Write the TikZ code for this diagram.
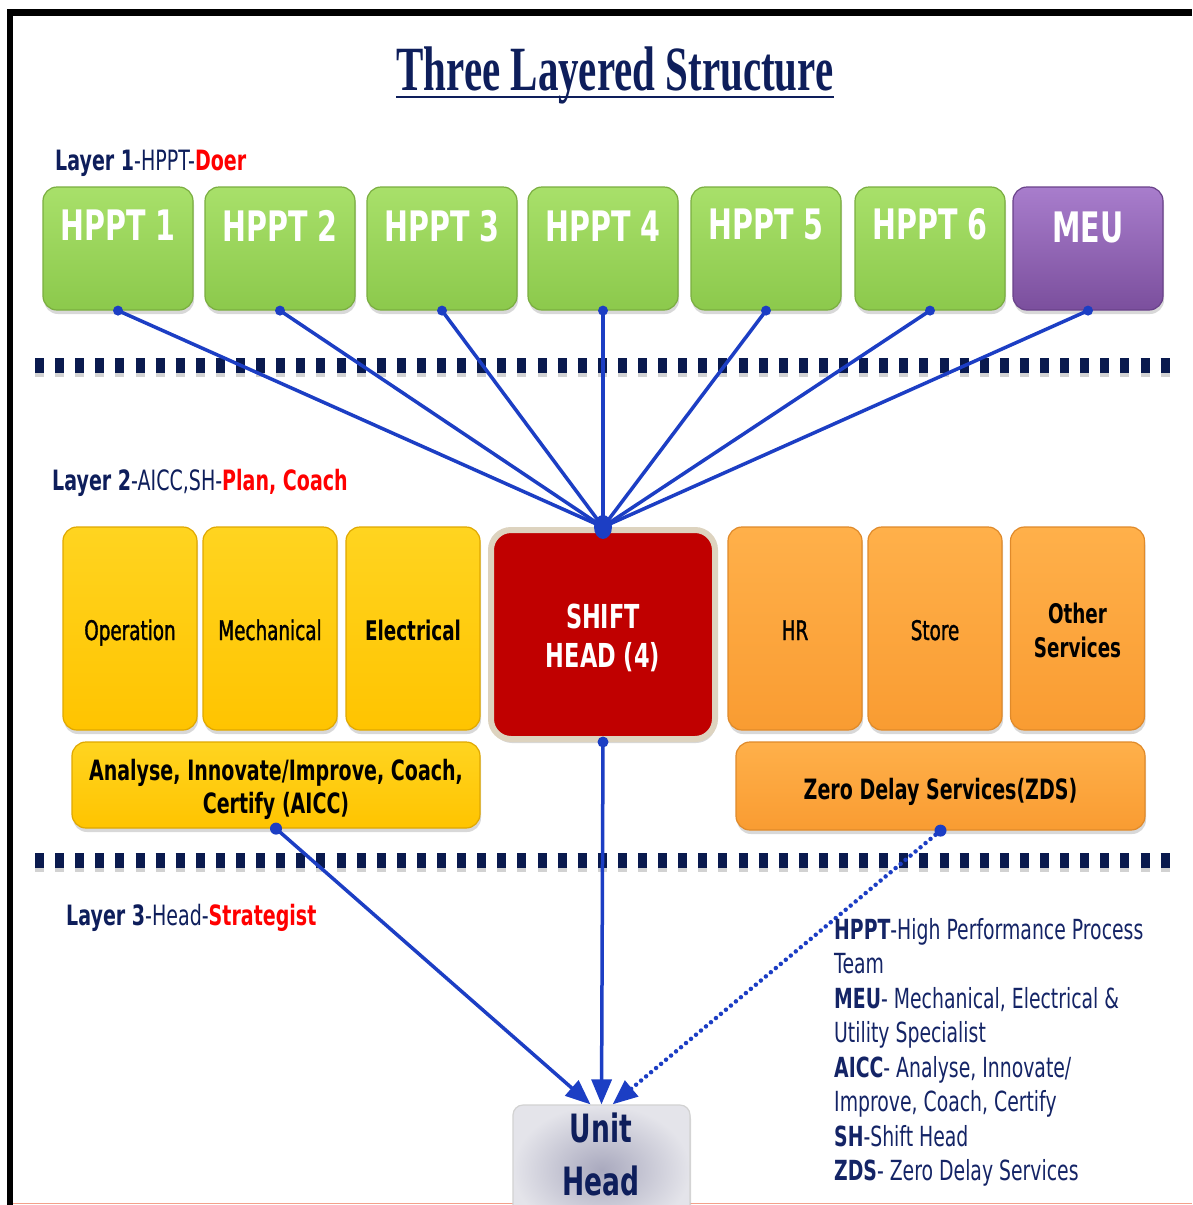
\documentclass[tikz,border=0pt]{standalone}
\usepackage{fontspec}
\setmainfont{DejaVu Sans}[FakeStretch=0.68]
\newfontfamily\medfont{DejaVu Sans}[FakeStretch=0.68, FakeBold=1.3]
\newfontfamily\titlefont{Liberation Serif}[FakeStretch=0.65]
\usetikzlibrary{shadows,arrows.meta}
\definecolor{navy}{HTML}{0E1E5B}
\definecolor{legnavy}{HTML}{142466}
\definecolor{lred}{HTML}{FF0000}
\definecolor{lineblue}{HTML}{1C3EC4}
\definecolor{greenT}{HTML}{A8E06A}
\definecolor{greenB}{HTML}{8CC94C}
\definecolor{greenD}{HTML}{7AAE40}
\definecolor{purT}{HTML}{A87DCC}
\definecolor{purB}{HTML}{7B4F9D}
\definecolor{purD}{HTML}{6A428A}
\definecolor{yelT}{HTML}{FFD420}
\definecolor{yelB}{HTML}{FFC400}
\definecolor{yelD}{HTML}{E0A800}
\definecolor{orT}{HTML}{FFB04A}
\definecolor{orB}{HTML}{F99C32}
\definecolor{orD}{HTML}{E08A2A}
\definecolor{shred}{HTML}{C00000}
\definecolor{shborder}{HTML}{DDD3BF}
\definecolor{dashc}{HTML}{0A1A4E}
\definecolor{salmon}{HTML}{F4A08A}
\definecolor{uhin}{HTML}{A9A9BE}
\definecolor{uhout}{HTML}{E4E4EA}
\tikzset{
  box/.style={rounded corners=14pt, draw, line width=1.2pt, inner sep=0pt,
    drop shadow={opacity=.3,shadow xshift=1pt,shadow yshift=-4pt}},
  hbox/.style={box, minimum width=150pt, minimum height=123pt,
    top color=greenT, bottom color=greenB, draw=greenD},
  mbox/.style={box, minimum width=150pt, minimum height=123pt,
    top color=purT, bottom color=purB, draw=purD},
  htext/.style={text=white, font=\fontsize{42}{50}\selectfont\bfseries, inner sep=0pt},
  ybox/.style={box, minimum width=134pt, minimum height=203pt,
    top color=yelT, bottom color=yelB, draw=yelD, align=center},
  obox/.style={box, minimum width=134pt, minimum height=203pt,
    top color=orT, bottom color=orB, draw=orD, align=center},
  lab/.style={font=\medfont\fontsize{27}{34}\selectfont},
  labb/.style={font=\fontsize{27}{34}\selectfont\bfseries},
  btext/.style={inner sep=0pt, align=center, font=\fontsize{28}{33}\selectfont\bfseries},
  layer/.style={anchor=base west, inner sep=0pt, text=navy, font=\fontsize{28}{34}\selectfont},
  leg/.style={anchor=base west, inner sep=0pt, text=legnavy, font=\fontsize{27.7}{34}\selectfont},
  conn/.style={lineblue, line width=3.5pt},
  sep/.style={dashc, line width=15pt, dash pattern=on 9pt off 11.1pt},
  sepshadow/.style={black!35, opacity=.5, line width=13pt, dash pattern=on 9pt off 11.1pt},
  tip/.style={-{Triangle[length=25pt,width=20pt]}}
}
\begin{document}
\begin{tikzpicture}[x=1pt,y=-1pt]
\useasboundingbox (0,0) rectangle (1192,1205);
\fill[white] (0,0) rectangle (1192,1205);
% frame
\fill[black] (7,9) rectangle (1192,16);
\fill[black] (7,9) rectangle (13,1205);
\draw[salmon, line width=1.5pt] (13,1203.5) -- (1192,1203.5);

% title
\node[anchor=base, inner sep=0pt, text=navy, font=\titlefont\fontsize{63}{70}\selectfont\bfseries] (title) at (615,90) {Three Layered Structure};
\draw[navy, line width=2.6pt] ([yshift=-7pt]title.base west) -- ([yshift=-7pt]title.base east);

% layer labels
\node[layer] (l1) at (55,170) {\textbf{Layer 1}-HPPT-\textcolor{lred}{\textbf{Doer}}};
\node[layer] (l2) at (52,490) {\textbf{Layer 2}-AICC,SH-\textcolor{lred}{\textbf{Plan, Coach}}};
\node[layer] (l3) at (66,925) {\textbf{Layer 3}-Head-\textcolor{lred}{\textbf{Strategist}}};

% separators
\draw[sepshadow] (35,370) -- (1170,370);
\draw[sep] (35,365) -- (1170,365);
\draw[sepshadow] (35,865) -- (1170,865);
\draw[sep] (35,860) -- (1170,860);

% layer 1 boxes
\node[hbox] (h1) at (118,248.5) {};
\node[hbox] (h2) at (280,248.5) {};
\node[hbox] (h3) at (442,248.5) {};
\node[hbox] (h4) at (603,248.5) {};
\node[hbox] (h5) at (766,248.5) {};
\node[hbox] (h6) at (930,248.5) {};
\node[mbox] (meu) at (1088,248.5) {};
\node[htext] (h1t) at (118,225) {HPPT 1};
\node[htext] (h2t) at (280,226) {HPPT 2};
\node[htext] (h3t) at (442,226) {HPPT 3};
\node[htext] (h4t) at (603,226) {HPPT 4};
\node[htext] (h5t) at (766,224) {HPPT 5};
\node[htext] (h6t) at (930,224) {HPPT 6};
\node[htext] (meut) at (1088,227) {MEU};

% layer 2 boxes
\node[ybox] (op) at (130,628.5) {};
\node[ybox] (mech) at (270,628.5) {};
\node[ybox] (elec) at (413,628.5) {};
\node[obox] (hr) at (795,628.5) {};
\node[obox] (store) at (935,628.5) {};
\node[obox] (other) at (1077.5,628.5) {};
\node[lab, anchor=base] (opt) at (130,640) {Operation};
\node[lab, anchor=base] (mecht) at (270,640) {Mechanical};
\node[labb, anchor=base] (elect) at (413,640) {Electrical};
\node[lab, anchor=base] (hrt) at (795,640) {HR};
\node[lab, anchor=base] (storet) at (935,640) {Store};
\node[labb, align=center, inner sep=0pt] (othert) at (1077.5,630) {Other\\Services};
\node[box, rounded corners=20pt, minimum width=224pt, minimum height=209pt,
  fill=shred, draw=shborder, line width=6pt] (sh) at (603,634.5) {};
\node[inner sep=0pt, text=white, align=center,
  font=\fontsize{33}{39}\selectfont\bfseries] (sht) at (603,638) {SHIFT\\HEAD (4)};
\node[box, minimum width=408pt, minimum height=86pt, top color=yelT, bottom color=yelB,
  draw=yelD] (aicc) at (276,785) {};
\node[btext] (aicct) at (276,789) {Analyse, Innovate/Improve, Coach,\\Certify (AICC)};
\node[box, minimum width=409pt, minimum height=88pt, top color=orT, bottom color=orB,
  draw=orD] (zds) at (940.5,786) {};
\node[btext, anchor=base] (zdst) at (940.5,799) {Zero Delay Services(ZDS)};

% unit head
\node[box, rounded corners=10pt, minimum width=177pt, minimum height=130pt,
  inner color=uhin, outer color=uhout, draw=gray!35] (uh) at (601.5,1170) {};
\node[inner sep=0pt, anchor=base, text=navy, font=\fontsize{39}{46}\selectfont\bfseries] (uh1) at (601,1142) {Unit};
\node[inner sep=0pt, anchor=base, text=navy, font=\fontsize{39}{46}\selectfont\bfseries] (uh2) at (601,1195) {Head};

% connectors layer1 -> shift head
\foreach \n in {h1,h2,h3,h4,h5,h6,meu}{
  \draw[conn] (\n.south) -- (sh.north);
  \fill[lineblue] (\n.south) circle (5pt);
}
\fill[lineblue] (sh.north) ellipse (9pt and 12pt);

% to unit head
\draw[conn, tip] (aicc.south) -- ([xshift=-11pt]uh.north);
\draw[conn, tip] (sh.south) -- (uh.north);
\draw[lineblue, line width=4.5pt, dash pattern=on 0pt off 6.5pt, line cap=round, tip] (zds.south) -- ([xshift=11pt]uh.north);
\fill[lineblue] (sh.south) circle (5.5pt);
\fill[lineblue] (aicc.south) circle (6pt);
\fill[lineblue] (zds.south) circle (6pt);

% legend
\node[leg] (g1) at (834,939) {\textbf{HPPT}-High Performance Process};
\node[leg] (g2) at (834,973.5) {Team};
\node[leg] (g3) at (834,1008) {\textbf{MEU}- Mechanical, Electrical \&};
\node[leg] (g4) at (834,1042.5) {Utility Specialist};
\node[leg] (g5) at (834,1077) {\textbf{AICC}- Analyse, Innovate/};
\node[leg] (g6) at (834,1111.5) {Improve, Coach, Certify};
\node[leg] (g7) at (834,1146) {\textbf{SH}-Shift Head};
\node[leg] (g8) at (834,1180.5) {\textbf{ZDS}- Zero Delay Services};
\end{tikzpicture}
\end{document}
